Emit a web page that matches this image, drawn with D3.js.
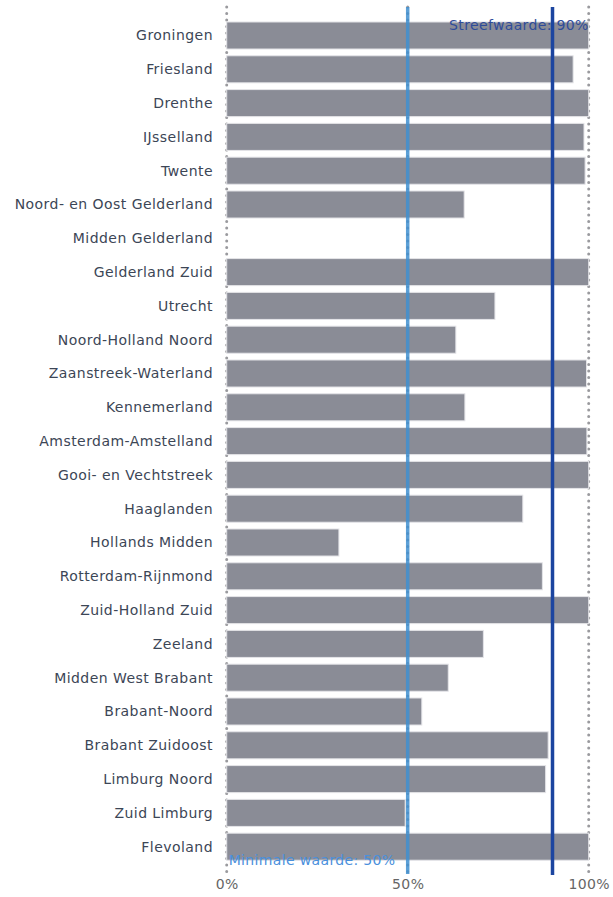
<!DOCTYPE html>
<html><head><meta charset="utf-8">
<script src="https://cdn.jsdelivr.net/npm/d3@7"></script>
<style>body{margin:0;background:#fff}svg{display:block}</style>
</head><body>
<svg id="c" width="613" height="897"></svg>
<script>
const categories = ["Groningen","Friesland","Drenthe","IJsselland","Twente","Noord- en Oost Gelderland","Midden Gelderland","Gelderland Zuid","Utrecht","Noord-Holland Noord","Zaanstreek-Waterland","Kennemerland","Amsterdam-Amstelland","Gooi- en Vechtstreek","Haaglanden","Hollands Midden","Rotterdam-Rijnmond","Zuid-Holland Zuid","Zeeland","Midden West Brabant","Brabant-Noord","Brabant Zuidoost","Limburg Noord","Zuid Limburg","Flevoland"];
const values = [100,95.7,100,98.7,99,65.6,null,100,74.1,63.3,99.4,65.8,99.5,100,81.8,31,87.2,100,70.9,61.2,53.9,88.8,88.1,49.3,100];
const tickValues = [0,50,100];
const targetValue = 90, targetLabel = "Streefwaarde: 90%";
const minValue = 50, minLabel = "Minimale waarde: 50%";

const svg = d3.select("#c");
const x = d3.scaleLinear().domain([0,100]).range([226.7,588.7]);
const y = d3.scaleBand().domain(categories).range([18.6,863.6]).paddingInner(0.2).paddingOuter(0.1);
const font = "'DejaVu Sans', Verdana, sans-serif";
const yTop = 7, yBottom = 874;

// grid
svg.append("g").selectAll("line").data(tickValues).join("line")
  .attr("x1",d=>x(d)).attr("x2",d=>x(d)).attr("y1",yTop).attr("y2",yBottom)
  .attr("stroke","#9a9a9e").attr("stroke-width",3).attr("stroke-linecap","round")
  .attr("stroke-dasharray","0,6.5");

// bars
svg.append("g").selectAll("rect").data(categories.map((c,i)=>({c,v:values[i]})).filter(d=>d.v!=null)).join("rect")
  .attr("x",x(0)).attr("y",d=>y(d.c)).attr("width",d=>x(d.v)-x(0)).attr("height",y.bandwidth())
  .attr("fill","#8a8c96").attr("stroke","#e4e4e8").attr("stroke-width",1);

// reference labels (under lines)
svg.append("text").attr("x",x(100)).attr("y",30).attr("text-anchor","end")
  .attr("font-family",font).attr("font-size",14).attr("letter-spacing",0.35).attr("fill","#2f4c9a").text(targetLabel);
svg.append("text").attr("x",x(0)+2).attr("y",865).attr("text-anchor","start")
  .attr("font-family",font).attr("font-size",14).attr("letter-spacing",0.35).attr("fill","#4a90dc").text(minLabel);

// reference lines
svg.append("line").attr("x1",x(minValue)).attr("x2",x(minValue)).attr("y1",yTop).attr("y2",yBottom)
  .attr("stroke","#3f8fd0").attr("stroke-opacity",0.85).attr("stroke-width",3.5);
svg.append("line").attr("x1",x(targetValue)).attr("x2",x(targetValue)).attr("y1",yTop).attr("y2",yBottom+1)
  .attr("stroke","#1c45a0").attr("stroke-width",3.5);

// y labels
svg.append("g").selectAll("text").data(categories).join("text")
  .attr("x",213).attr("y",d=>y(d)+y.bandwidth()/2).attr("dy","0.35em").attr("text-anchor","end")
  .attr("font-family",font).attr("font-size",14).attr("letter-spacing",0.45).attr("fill","#3c4656").text(d=>d);

// x axis labels
const xa = svg.append("g").attr("transform","translate(0,879)")
  .call(d3.axisBottom(x).tickValues(tickValues).tickFormat(d=>d+"%").tickSize(0).tickPadding(0));
xa.select(".domain").remove();
xa.selectAll("text").attr("font-family",font).attr("font-size",14).attr("letter-spacing",0.4).attr("fill","#666").attr("dy","0.71em");
</script>
</body></html>
